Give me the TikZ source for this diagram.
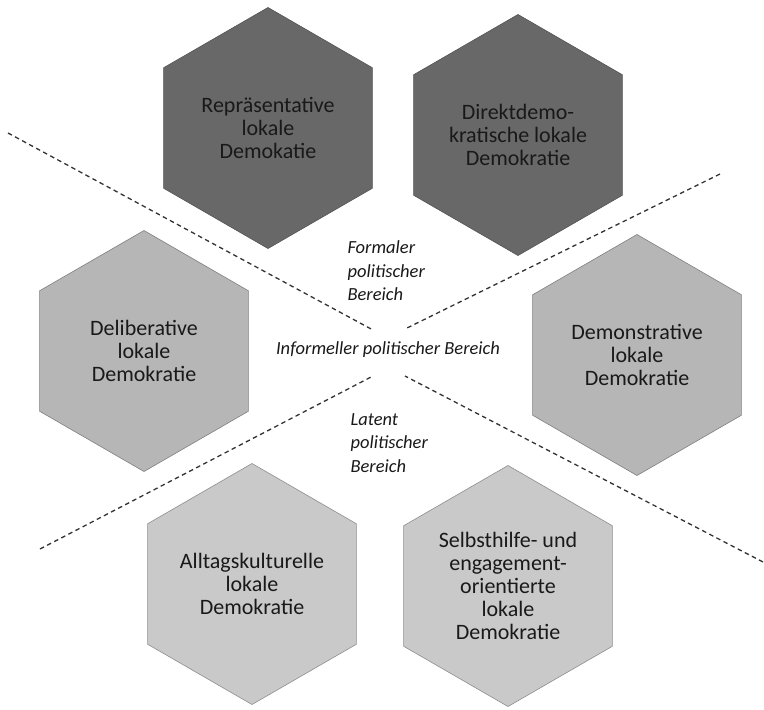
\documentclass[tikz,border=0pt]{standalone}
\usepackage{fontspec}
\setmainfont{Carlito}
\usetikzlibrary{shapes.geometric}
\definecolor{hexdark}{RGB}{104,104,104}
\definecolor{hexmid}{RGB}{182,182,182}
\definecolor{hexlight}{RGB}{201,201,201}
\definecolor{textdark}{RGB}{25,25,25}

\begin{document}
\begin{tikzpicture}[x=1pt,y=-1pt,
  hexa/.style={regular polygon,regular polygon sides=6,shape border rotate=30,
    minimum size=241pt,inner sep=0pt,align=center,text=textdark,
    font=\fontsize{22}{23}\selectfont,line width=.6pt},
  formal/.style={hexa,fill=hexdark,draw=hexdark!80!black},
  informal/.style={hexa,fill=hexmid,draw=hexmid!70!black},
  latent/.style={hexa,fill=hexlight,draw=hexlight!70!black},
  bereich/.style={font=\itshape\fontsize{18.5}{23.5}\selectfont,text=textdark},
  grenze/.style={dash pattern=on 4.5pt off 3.5pt,line width=1.3pt,color=black!80}]
\useasboundingbox (0,0) rectangle (764,710);

\node[formal] (repr) at (268,128) {Repräsentative\\lokale\\Demokatie};
\node[formal] (direkt) at (518,135) {Direktdemo-\\kratische lokale\\Demokratie};
\node[informal] (delib) at (144,351) {Deliberative\\lokale\\Demokratie};
\node[informal] (demo) at (637,355) {Demonstrative\\lokale\\Demokratie};
\node[latent] (alltag) at (252,584) {Alltagskulturelle\\lokale\\Demokratie};
\node[latent] (selbst) at (508,586) {Selbsthilfe- und\\engagement-\\orientierte\\lokale\\Demokratie};

\coordinate (ul) at (8,133);
\coordinate (ulm) at (373,330);
\coordinate (ur) at (720,174);
\coordinate (urm) at (407,328);
\coordinate (ll) at (40,549);
\coordinate (llm) at (373,376);
\coordinate (lr) at (763,562);
\coordinate (lrm) at (405,376);
\draw[grenze] (ul) -- (ulm);
\draw[grenze] (ur) -- (urm);
\draw[grenze] (ll) -- (llm);
\draw[grenze] (lr) -- (lrm);

\node[bereich,anchor=west,align=left] (formaler) at (344,271) {Formaler\\politischer\\Bereich};
\node[bereich] (informeller) at (388,350) {Informeller politischer Bereich};
\node[bereich,anchor=west,align=left] (latenter) at (347,443) {Latent\\politischer\\Bereich};
\end{tikzpicture}
\end{document}
